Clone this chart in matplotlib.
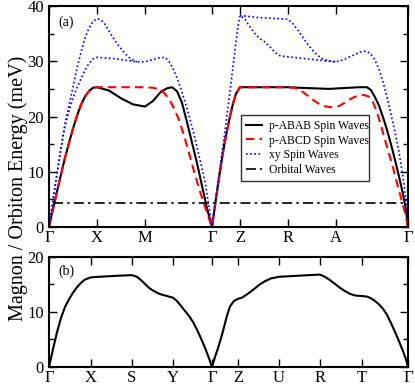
import numpy as np
import matplotlib
matplotlib.use("Agg")
import matplotlib.pyplot as plt
from matplotlib.ticker import MultipleLocator

plt.rcParams['font.family'] = ['Liberation Serif', 'DejaVu Serif']

# k-path (a): Γ X M Γ Z R A Γ
ka_ticks = [0, 48, 96, 163, 191, 239, 287, 359]
ka_labels = ['Γ', 'X', 'M', 'Γ', 'Z', 'R', 'A', 'Γ']

# k-path (b): Γ X S Y Γ Z U R T Γ
kb_ticks = [0, 42, 83, 124, 163, 189, 230, 271, 313, 359]
kb_labels = ['Γ', 'X', 'S', 'Y', 'Γ', 'Z', 'U', 'R', 'T', 'Γ']

# p-ABAB spin waves
abab_k = [0, 4, 8, 12, 16, 20, 24, 28, 32, 36, 40, 44, 48, 60, 72, 84, 96, 104, 112, 118, 123,
          128, 133, 138, 143, 148, 153, 158, 163,
          166, 169, 172, 175, 178, 181, 184, 187, 191, 200, 215, 230, 239, 250, 265, 280, 290,
          300, 310, 318, 322, 326, 330, 334, 338, 342, 346, 350, 354, 357, 359]
abab_E = [0, 3.2, 6.4, 9.5, 12.5, 15.2, 17.8, 20.1, 22.1, 23.6, 24.6, 25.2, 25.3, 24.7, 23.3, 22.2, 21.8, 22.8, 24.5, 25.1, 25.3,
          24.6, 22.5, 19.0, 15.3, 11.6, 7.5, 3.4, 0,
          3.8, 7.6, 11.2, 14.5, 17.4, 20.0, 22.3, 24.1, 25.3, 25.3, 25.3, 25.3, 25.3, 25.2, 25.1, 25.0, 25.1,
          25.2, 25.3, 25.3, 24.8, 23.5, 22.0, 19.9, 17.6, 15.0, 12.2, 9.2, 6.0, 3.2, 0]

# p-ABCD spin waves
abcd_k = [0, 4, 8, 12, 16, 20, 24, 28, 32, 36, 40, 44, 48, 60, 72, 84, 96, 104, 110, 115, 120,
          125, 130, 135, 140, 145, 150, 155, 160, 163,
          166, 169, 172, 175, 178, 181, 184, 187, 191, 200, 215, 230, 239, 245, 250, 255, 260, 265,
          270, 275, 280, 285, 290, 295, 300, 305, 310, 315, 320, 324, 328, 332, 336, 340, 344,
          348, 352, 356, 359]
abcd_E = [0, 3.2, 6.4, 9.5, 12.5, 15.2, 17.8, 20.1, 22.1, 23.6, 24.6, 25.2, 25.3, 25.3, 25.3, 25.3, 25.3, 25.2, 24.9, 24.3, 23.2,
          21.5, 19.4, 16.6, 13.4, 10.1, 7.0, 4.2, 1.5, 0,
          3.8, 7.6, 11.2, 14.5, 17.4, 20.0, 22.3, 24.1, 25.3, 25.3, 25.3, 25.3, 25.3, 25.2, 24.9, 24.3, 23.6, 22.9,
          22.3, 21.9, 21.7, 21.7, 21.9, 22.4, 23.0, 23.5, 23.8, 23.9, 23.6, 22.6, 20.8, 18.4, 15.8, 13.3, 10.8,
          8.0, 5.3, 2.6, 0]

# xy spin waves, lower branch over the whole path
xy_k = [0, 4, 8, 12, 16, 20, 24, 28, 32, 36, 40, 44, 48, 56, 64, 72, 80, 88, 96, 104, 110, 116,
        120, 124, 128, 132, 136, 140, 144, 148, 152, 156, 160, 163,
        166, 169, 172, 175, 178, 181, 184, 187, 189, 191, 196, 201, 206, 211, 216, 221, 226, 231,
        239, 250, 260, 270, 280, 287, 295, 302, 308, 313, 318, 322, 326, 330, 334, 338, 342,
        346, 350, 354, 357, 359]
xy_E = [0, 4.8, 9.6, 14.2, 18.3, 21.0, 23.3, 25.2, 26.8, 28.4, 29.6, 30.4, 30.7, 30.6, 30.5, 30.3, 30.1, 29.9, 29.9, 30.3, 30.6, 30.7,
        30.0, 28.7, 27.0, 25.0, 22.7, 20.2, 17.5, 14.5, 11.4, 8.2, 3.7, 0,
        4.0, 8.0, 12.0, 16.0, 20.2, 24.5, 29.0, 33.5, 36.3, 38.3, 37.6, 36.2, 35.0, 34.1, 33.5, 32.6, 31.6, 31.0,
        30.8, 30.6, 30.4, 30.2, 30.0, 29.9, 30.3, 30.9, 31.4, 31.8, 31.8, 31.3, 30.2, 28.6, 26.3, 23.6, 20.5,
        17.2, 13.6, 9.0, 5.0, 0]

# xy spin waves, upper branches
xy_up1_k = [0, 4, 8, 12, 16, 20, 24, 28, 32, 36, 40, 44, 48, 52, 56, 60, 64, 68, 72, 76, 80, 84, 88]
xy_up1_E = [0, 4.8, 9.6, 14.3, 18.6, 22.0, 25.3, 28.7, 31.6, 34.2, 36.0, 37.2, 37.7, 37.5, 36.7, 35.5,
            34.3, 33.2, 32.3, 31.4, 30.7, 30.2, 29.9]
xy_up2_k = [191, 200, 210, 220, 230, 239, 244, 249, 254, 259, 264, 269, 274, 280, 287]
xy_up2_E = [38.3, 38.1, 37.9, 37.8, 37.7, 37.6, 36.8, 35.6, 34.3, 33.0, 31.9, 31.0, 30.4, 30.1, 29.9]

# orbital waves (flat)
orb_k = [4] + ka_ticks[1:]
orb_E = [4.3] * len(orb_k)

# panel (b)
b_k = [0, 4, 8, 12, 16, 20, 24, 28, 32, 36, 42, 50, 60, 70, 83, 88, 92, 96, 100, 104, 108, 112, 116,
       120, 124, 128, 132, 136, 140, 144, 148, 152, 156, 160, 163,
       166, 169, 172, 175, 178, 181, 185, 189, 193, 198, 204, 210, 216, 222, 230, 240, 250, 260,
       271, 276, 281, 286, 291, 296, 301, 306, 313, 318, 322, 326, 330, 334, 338, 342, 346,
       350, 354, 357, 359]
b_E = [0, 3.2, 6.3, 8.9, 10.9, 12.3, 13.5, 14.5, 15.3, 15.9, 16.3, 16.4, 16.5, 16.6, 16.7, 16.4, 15.8, 15.1, 14.4, 13.9, 13.5, 13.2, 13.0,
       12.8, 12.6, 12.0, 11.1, 10.2, 9.3, 8.2, 6.8, 5.2, 3.5, 1.6, 0,
       1.8, 3.4, 5.2, 7.2, 9.3, 11.0, 12.0, 12.4, 12.6, 13.2, 14.0, 14.9, 15.6, 16.1, 16.4, 16.5, 16.6, 16.7,
       16.8, 16.4, 15.8, 15.1, 14.4, 13.8, 13.3, 13.0, 12.9, 12.8, 12.5, 12.0, 11.4, 10.6, 9.5, 8.0, 6.4,
       4.7, 2.9, 1.4, 0]


def style_axis(ax, ticks, labels, ymax, ystep):
    ax.set_xlim(0, 359)
    ax.set_ylim(0, ymax)
    ax.set_xticks(ticks)
    ax.set_xticklabels(labels)
    ax.yaxis.set_major_locator(MultipleLocator(ystep))
    ax.yaxis.set_minor_locator(MultipleLocator(ystep / 2))
    ax.tick_params(which='both', direction='in', top=True, right=True, labelsize=12, width=1)
    ax.tick_params(which='major', length=6)
    ax.tick_params(which='minor', length=3.5)
    ax.tick_params(axis='x', pad=2)
    for s in ax.spines.values():
        s.set_linewidth(1.5)


fig = plt.figure(figsize=(4.15, 3.85), dpi=100)
ax1 = fig.add_axes([0.118, 0.4104, 0.865, 0.574])
ax2 = fig.add_axes([0.118, 0.0468, 0.865, 0.2857])

ax1.plot(abab_k, abab_E, color='black', lw=1.5, label='p-ABAB Spin Waves')
ax1.plot(abcd_k, abcd_E, color='red', lw=1.5, ls=(0, (4, 2.5)), label='p-ABCD Spin Waves')
ax1.plot(xy_k, xy_E, color='blue', lw=1.2, ls=(0, (1, 1.5)), label='xy Spin Waves')
ax1.plot(xy_up1_k, xy_up1_E, color='blue', lw=1.2, ls=(0, (1, 1.5)))
ax1.plot(xy_up2_k, xy_up2_E, color='blue', lw=1.2, ls=(0, (1, 1.5)))
ax1.plot(orb_k, orb_E, color='black', lw=1.2, ls=(0, (6, 2.5, 1.5, 2.5)), label='Orbital Waves')
style_axis(ax1, ka_ticks, ka_labels, 40, 10)
ax1.text(0.025, 0.955, '(a)', transform=ax1.transAxes, fontsize=10, va='top', ha='left')
leg = ax1.legend(loc='lower left', bbox_to_anchor=(0.535, 0.208, 0.356, 0.262), mode='expand',
                 fontsize=8.4, frameon=True, fancybox=False, edgecolor='black',
                 handlelength=1.4, borderaxespad=0, labelspacing=0.25, handletextpad=0.6, borderpad=0.4)
leg.get_frame().set_linewidth(1.0)

ax2.plot(b_k, b_E, color='black', lw=1.5)
style_axis(ax2, kb_ticks, kb_labels, 20, 10)
ax2.text(0.025, 0.93, '(b)', transform=ax2.transAxes, fontsize=10, va='top', ha='left')

fig.text(0.043, 0.51, 'Magnon / Orbiton Energy (meV)', rotation=90, fontsize=14.5,
         ha='center', va='center')

fig.savefig('out.png', dpi=100)
